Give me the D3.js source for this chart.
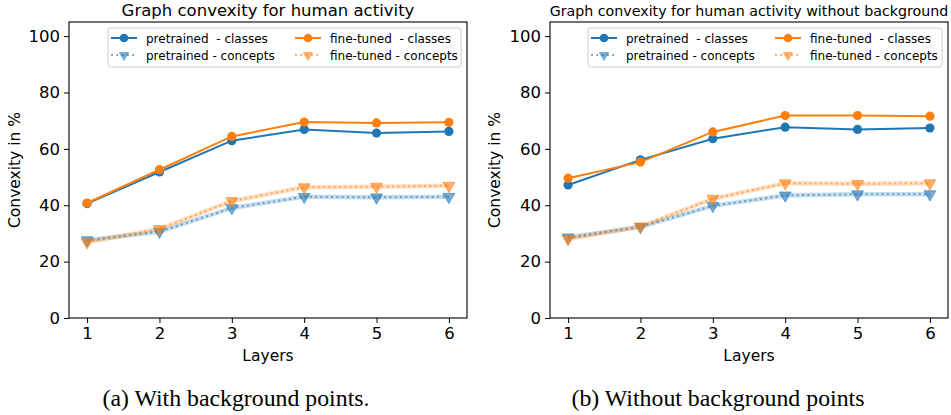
<!DOCTYPE html>
<html><head><meta charset="utf-8">
<script src="https://cdn.jsdelivr.net/npm/d3@7"></script>
<style>body{margin:0;background:#fff}svg{display:block}text{white-space:pre}</style>
</head><body>
<svg id="c" width="951" height="415"></svg>
<script>
const layers = [1, 2, 3, 4, 5, 6];
const yTicks = [0, 20, 40, 60, 80, 100];
// (a) with background
const aPreClasses = [40.6, 51.8, 62.9, 66.9, 65.6, 66.2];
const aFtClasses = [40.8, 52.6, 64.4, 69.5, 69.2, 69.4];
const aPreConcepts = [27.6, 30.6, 39.0, 43.0, 42.8, 43.0];
const aFtConcepts = [26.9, 31.6, 41.5, 46.4, 46.6, 46.9];
// (b) without background
const bPreClasses = [47.2, 56.1, 63.6, 67.7, 66.9, 67.4];
const bFtClasses = [49.6, 55.3, 66.0, 71.8, 71.8, 71.6];
const bPreConcepts = [28.6, 32.3, 39.8, 43.5, 43.9, 43.9];
const bFtConcepts = [28.0, 32.5, 42.3, 47.8, 47.6, 47.8];
const legendLabels = ["pretrained  - classes", "fine-tuned  - classes", "pretrained - concepts", "fine-tuned - concepts"];
const titles = ["Graph convexity for human activity", "Graph convexity for human activity without background"];
const captions = ["(a) With background points.", "(b) Without background points"];
const BLUE = "#1f77b4", ORANGE = "#ff7f0e";

const svg = d3.select("#c");
const SANS = "DejaVu Sans, sans-serif";

function fit(t, w) {
  const fs = parseFloat(t.attr("font-size"));
  const L = t.node().getComputedTextLength();
  t.attr("font-size", (fs * w / L).toFixed(2));
}

const panels = [
  {x0: 69, x1: 467, pre: aPreClasses, ft: aFtClasses, pc: aPreConcepts, fc: aFtConcepts,
   title: titles[0], titleW: 293, caption: captions[0], capX: 236, capW: 267, ylabX: 15, leg: {x0: 108, x1: 461}},
  {x0: 550, x1: 948, pre: bPreClasses, ft: bFtClasses, pc: bPreConcepts, fc: bFtConcepts,
   title: titles[1], titleW: 399, caption: captions[1], capX: 718, capW: 293, ylabX: 495, leg: {x0: 588, x1: 942}}
];
const yTop = 22, yBot = 318;

panels.forEach(p => {
  const g = svg.append("g");
  const x = d3.scaleLinear().domain([0.75, 6.25]).range([p.x0, p.x1]);
  const y = d3.scaleLinear().domain([0, 105]).range([yBot, yTop]);

  const band = d3.area().x((d, i) => x(layers[i])).y0(d => y(d - 0.8)).y1(d => y(d + 0.8));
  [[p.pc, BLUE], [p.fc, ORANGE]].forEach(([vals, col]) => {
    g.append("path").datum(vals).attr("d", band).attr("fill", col).attr("fill-opacity", 0.25);
  });
  const line = d3.line().x((d, i) => x(layers[i])).y(d => y(d));
  [[p.pc, BLUE], [p.fc, ORANGE]].forEach(([vals, col]) => {
    g.append("path").datum(vals).attr("d", line).attr("fill", "none").attr("stroke", col)
      .attr("stroke-width", 2).attr("stroke-dasharray", "2,3.3").attr("stroke-opacity", 0.6);
    g.selectAll(null).data(vals).enter().append("path")
      .attr("d", d3.symbol(d3.symbolTriangle, 60))
      .attr("transform", (d, i) => `translate(${x(layers[i])},${y(d)}) rotate(180)`)
      .attr("fill", col).attr("fill-opacity", 0.6).attr("stroke", col).attr("stroke-opacity", 0.6);
  });
  [[p.pre, BLUE], [p.ft, ORANGE]].forEach(([vals, col]) => {
    g.append("path").datum(vals).attr("d", line).attr("fill", "none").attr("stroke", col).attr("stroke-width", 2);
    g.selectAll(null).data(vals).enter().append("circle")
      .attr("cx", (d, i) => x(layers[i])).attr("cy", d => y(d)).attr("r", 4.6).attr("fill", col);
  });

  g.append("rect").attr("x", p.x0).attr("y", yTop).attr("width", p.x1 - p.x0).attr("height", yBot - yTop)
    .attr("fill", "none").attr("stroke", "#000").attr("stroke-width", 1.1);

  const ax = g.append("g").attr("transform", `translate(0,${yBot})`)
    .call(d3.axisBottom(x).tickValues(layers).tickFormat(d3.format("d")).tickSize(5).tickPadding(4));
  const ay = g.append("g").attr("transform", `translate(${p.x0},0)`)
    .call(d3.axisLeft(y).tickValues(yTicks).tickSize(5).tickPadding(4));
  [ax, ay].forEach(a => {
    a.select(".domain").remove();
    a.selectAll("text").attr("font-family", SANS).attr("font-size", 16.5).attr("fill", "#000");
    a.selectAll("line").attr("stroke", "#000").attr("stroke-width", 1);
  });

  g.append("text").attr("x", (p.x0 + p.x1) / 2).attr("y", 361).attr("text-anchor", "middle")
    .attr("font-family", SANS).attr("font-size", 15.5).text("Layers");
  g.append("text").attr("transform", `translate(${p.ylabX + 5},${(yTop + yBot) / 2}) rotate(-90)`)
    .attr("text-anchor", "middle").attr("font-family", SANS).attr("font-size", 15.5).text("Convexity in %");
  const tt = g.append("text").attr("x", (p.x0 + p.x1) / 2).attr("y", 16).attr("text-anchor", "middle")
    .attr("font-family", SANS).attr("font-size", 14).text(p.title);
  fit(tt, p.titleW);
  const cap = g.append("text").attr("x", p.capX).attr("y", 406).attr("text-anchor", "middle")
    .attr("font-family", "Liberation Serif, Times New Roman, serif").attr("font-size", 20).text(p.caption);
  fit(cap, p.capW);

  const L = p.leg;
  g.append("rect").attr("x", L.x0).attr("y", 28).attr("width", L.x1 - L.x0).attr("height", 39).attr("rx", 3)
    .attr("fill", "#fff").attr("fill-opacity", 0.8).attr("stroke", "#ccc").attr("stroke-width", 1);
  const items = [
    {col: BLUE, cls: true, lab: legendLabels[0], cx: L.x0 + 3, ry: 38},
    {col: ORANGE, cls: true, lab: legendLabels[1], cx: L.x0 + 187, ry: 38},
    {col: BLUE, cls: false, lab: legendLabels[2], cx: L.x0 + 3, ry: 55},
    {col: ORANGE, cls: false, lab: legendLabels[3], cx: L.x0 + 187, ry: 55}
  ];
  items.forEach(it => {
    const hx0 = it.cx, hx1 = it.cx + 26, hm = it.cx + 13;
    if (it.cls) {
      g.append("line").attr("x1", hx0).attr("x2", hx1).attr("y1", it.ry).attr("y2", it.ry)
        .attr("stroke", it.col).attr("stroke-width", 2);
      g.append("circle").attr("cx", hm).attr("cy", it.ry).attr("r", 4.3).attr("fill", it.col);
    } else {
      g.append("line").attr("x1", hx0).attr("x2", hx1).attr("y1", it.ry).attr("y2", it.ry)
        .attr("stroke", it.col).attr("stroke-width", 2).attr("stroke-dasharray", "2,3.3").attr("stroke-opacity", 0.6);
      g.append("path").attr("d", d3.symbol(d3.symbolTriangle, 50))
        .attr("transform", `translate(${hm},${it.ry}) rotate(180)`)
        .attr("fill", it.col).attr("fill-opacity", 0.6);
    }
    g.append("text").attr("x", it.cx + 35).attr("y", it.ry + 4.5).attr("font-family", SANS)
      .attr("font-size", 12).attr("xml:space", "preserve").text(it.lab);
  });
});
</script>
</body></html>
